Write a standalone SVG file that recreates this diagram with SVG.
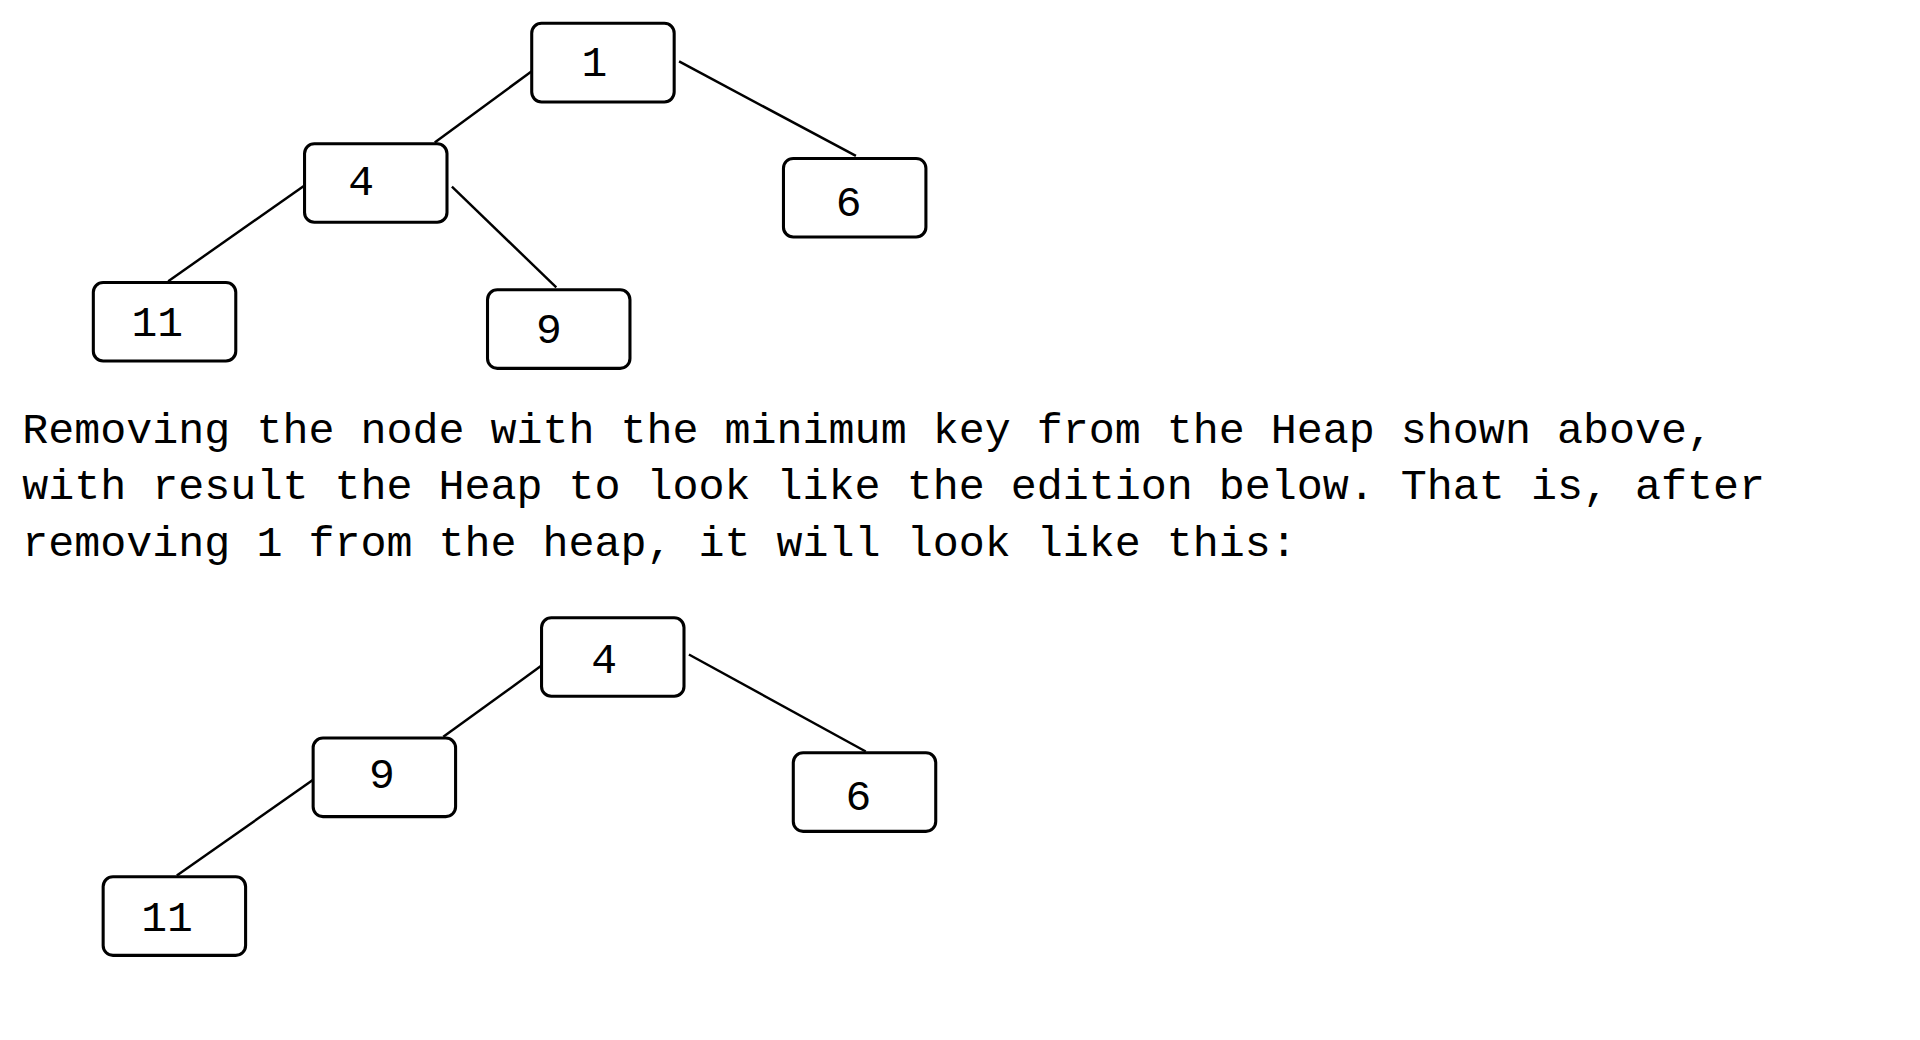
<svg xmlns="http://www.w3.org/2000/svg" width="1920" height="1040" viewBox="0 0 1920 1040">
<style>
.n rect{fill:#fff;stroke:#000;stroke-width:2.5}
text{font-family:"Liberation Mono","DejaVu Sans Mono",monospace;font-size:35px;fill:#000}
.n text{text-anchor:middle}
#edges line{stroke:#000;stroke-width:2}
</style>
<rect width="1920" height="1040" fill="#fff"/>
<g transform="scale(1.228)">
<g id="edges">
<line x1="433" y1="58" x2="354" y2="116"/>
<line x1="553" y1="50" x2="697" y2="127"/>
<line x1="248" y1="151" x2="137" y2="229"/>
<line x1="368" y1="152" x2="453" y2="234"/>
<line x1="441" y1="542" x2="361" y2="600"/>
<line x1="561" y1="533" x2="705" y2="612"/>
<line x1="255" y1="635" x2="144" y2="713"/>
</g>
<g id="t1" class="n"><rect x="433" y="19" width="116" height="64" rx="8"/><text x="484" y="62">1</text></g>
<g id="t4" class="n"><rect x="248" y="117" width="116" height="64" rx="8"/><text x="294" y="159">4</text></g>
<g id="t6" class="n"><rect x="638" y="129" width="116" height="64" rx="8"/><text x="691" y="176">6</text></g>
<g id="t11" class="n"><rect x="76" y="230" width="116" height="64" rx="8"/><text x="128" y="274">11</text></g>
<g id="t9" class="n"><rect x="397" y="236" width="116" height="64" rx="8"/><text x="447" y="279">9</text></g>
<g id="b4" class="n"><rect x="441" y="503" width="116" height="64" rx="8"/><text x="492" y="548">4</text></g>
<g id="b9" class="n"><rect x="255" y="601" width="116" height="64" rx="8"/><text x="311" y="642">9</text></g>
<g id="b6" class="n"><rect x="646" y="613" width="116" height="64" rx="8"/><text x="699" y="660">6</text></g>
<g id="b11" class="n"><rect x="84" y="714" width="116" height="64" rx="8"/><text x="136" y="758">11</text></g>
</g>
<g transform="scale(1.2387)">
<text x="18" y="358">Removing the node with the minimum key from the Heap shown above,</text>
<text x="18" y="403">with result the Heap to look like the edition below. That is, after</text>
<text x="18" y="449">removing 1 from the heap, it will look like this:</text>
</g>
</svg>
